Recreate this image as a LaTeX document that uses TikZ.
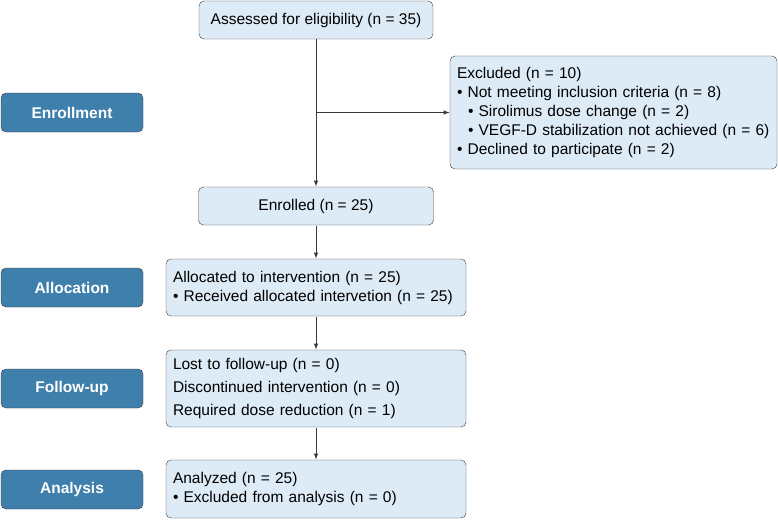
\documentclass[tikz,border=0pt]{standalone}
\usepackage{fontspec}
\setmainfont{Liberation Sans}
\definecolor{stagebg}{HTML}{3F7FAC}
\definecolor{boxbg}{HTML}{DDEBF7}
\definecolor{boxline}{HTML}{3A3A3A}
\begin{document}
\begin{tikzpicture}[x=1pt, y=-1pt]
\tikzset{ >=latex, font=\fontsize{15.5}{19}\selectfont, line width=1pt,
  stage/.style={draw=boxline, fill=stagebg, rounded corners=5pt, text=white, font=\fontsize{15.5}{19}\selectfont\bfseries, minimum width=142pt, minimum height=39pt, inner sep=0pt},
  flowbox/.style={draw=boxline, fill=boxbg, rounded corners=5pt, minimum height=38pt, inner sep=0pt},
  listbox/.style={flowbox, align=left, text width=#1, inner xsep=7pt},
}

\useasboundingbox (0,0) rectangle (778,519);

%\draw [lightgray, dashed](0,0) grid[step=50] (778,519);

\node [stage] (Enr) at (72,112.5) {Enrollment};
\node [stage] (All) at (72,287.5) {Allocation};
\node [stage] (Fol) at (72,388.5) {Follow-up};
\node [stage] (Ana) at (72,489.5) {Analysis};

\node [flowbox, minimum width=234pt] (assess) at (316,20) {Assessed for eligibility (n = 35)};
\node [flowbox, minimum width=235pt] (enrolled) at (316,206) {Enrolled (n = 25)};

\node [listbox=313pt, minimum height=113pt] (excl) at (613.5,112.5) {Excluded (n = 10)\\
\textbullet\ Not meeting inclusion criteria (n = 8)\\
\hspace*{11pt}\textbullet\ Sirolimus dose change (n = 2)\\
\mbox{\hspace*{11pt}\textbullet\ VEGF-D stabilization not achieved (n = 6)}\\
\textbullet\ Declined to participate (n = 2)};

\node [listbox=286pt, minimum height=57pt] (alloc) at (316,287.5) {Allocated to intervention (n = 25)\\
\textbullet\ Received allocated intervetion (n = 25)};

\node [listbox=286pt, minimum height=77pt] (follow) at (316,388.5) {Lost to follow-up (n = 0)\\[4pt]
Discontinued intervention (n = 0)\\[4pt]
Required dose reduction (n = 1)};

\node [listbox=286pt, minimum height=58pt] (anal) at (316,489) {Analyzed (n = 25)\\
\textbullet\ Excluded from analysis (n = 0)};

\coordinate (split) at (assess.south |- excl.west);

\draw [->, boxline] (assess) -- (enrolled);
\draw [->, boxline] (split) -- (excl);
\draw [->, boxline] (enrolled) -- (alloc);
\draw [->, boxline] (alloc) -- (follow);
\draw [->, boxline] (follow) -- (anal);

\end{tikzpicture}
\end{document}
